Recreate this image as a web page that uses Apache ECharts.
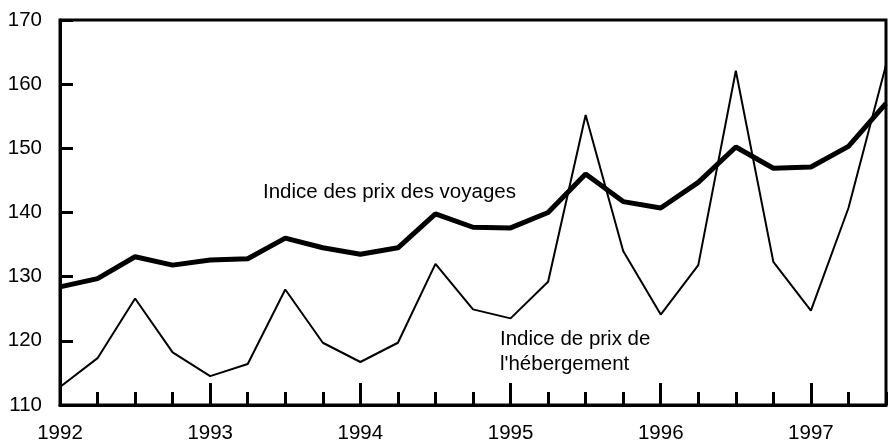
<!DOCTYPE html>
<html>
<head>
<meta charset="utf-8">
<script src="https://cdn.jsdelivr.net/npm/echarts@6/dist/echarts.min.js"></script>
<style>
  html, body { margin: 0; padding: 0; background: #fff; }
  #chart { width: 888px; height: 444px; }
</style>
</head>
<body>
<div id="chart"></div>
<script>
// trimestres de 1992 T1 a 1997 T3
const startYear = 1992
const years = [1992, 1993, 1994, 1995, 1996, 1997]
const voyages = [128.4, 129.7, 133.1, 131.8, 132.6, 132.8, 136.0, 134.5, 133.5, 134.5,
  139.8, 137.7, 137.6, 140.0, 146.0, 141.7, 140.7, 144.7, 150.2, 146.9, 147.1, 150.3, 157.0]
const hebergement = [112.8, 117.3, 126.6, 118.2, 114.5, 116.4, 128.0, 119.7, 116.7, 119.7,
  132.0, 124.9, 123.5, 129.2, 155.2, 134.0, 124.1, 131.8, 162.1, 132.3, 124.7, 140.7, 163.0]

const font = 'Liberation Sans, Arial, sans-serif'
const fsize = 20.5

function toPoints (values) {
  let pts = []
  for (let i = 0; i < values.length; i++) {
    pts.push([startYear + i * 0.25, values[i]])
  }
  return pts
}

let chart = echarts.init(document.getElementById('chart'), null, {renderer: 'canvas'})
let option = {
  animation: false,
  backgroundColor: '#fff',
  textStyle: {fontFamily: font},
  grid: {
    left: 60,
    right: 2,
    top: 20,
    bottom: 38,
    show: true,
    borderColor: '#000',
    borderWidth: 3,
    backgroundColor: 'transparent'
  },
  xAxis: [
    {
      type: 'value',
      min: years[0],
      max: 1997.5,
      interval: 1,
      axisLine: {show: true, lineStyle: {color: '#000', width: 3}},
      axisTick: {show: true, inside: true, length: 22, lineStyle: {color: '#000', width: 3}},
      axisLabel: {
        color: '#000',
        fontSize: fsize,
        fontFamily: font,
        margin: 18,
        showMaxLabel: false,
        formatter: function (v) {
          return years.indexOf(v) >= 0 ? String(v) : ''
        }
      },
      splitLine: {show: false}
    },
    {
      type: 'value',
      position: 'bottom',
      min: years[0],
      max: 1997.5,
      interval: 0.25,
      axisLine: {show: false},
      axisTick: {show: true, inside: true, length: 13, lineStyle: {color: '#000', width: 3}},
      axisLabel: {show: false},
      splitLine: {show: false}
    }
  ],
  yAxis: {
    type: 'value',
    min: 110,
    max: 170,
    interval: 10,
    axisLine: {show: true, lineStyle: {color: '#000', width: 3}},
    axisTick: {show: true, inside: true, length: 13, lineStyle: {color: '#000', width: 3}},
    axisLabel: {color: '#000', fontSize: fsize, fontFamily: font, margin: 18},
    splitLine: {show: false}
  },
  series: [
    {
      name: 'Indice de prix de l\'hébergement',
      type: 'line',
      data: toPoints(hebergement),
      showSymbol: false,
      symbol: 'none',
      lineStyle: {color: '#000', width: 2},
      z: 3
    },
    {
      name: 'Indice des prix des voyages',
      type: 'line',
      data: toPoints(voyages),
      showSymbol: false,
      symbol: 'none',
      lineStyle: {color: '#000', width: 5},
      z: 4
    }
  ],
  graphic: [
    {
      type: 'text',
      left: 263,
      top: 182,
      style: {text: 'Indice des prix des voyages', fill: '#000', font: fsize + 'px ' + font}
    },
    {
      type: 'text',
      left: 500,
      top: 327,
      style: {text: 'Indice de prix de\nl\'hébergement', fill: '#000', font: fsize + 'px ' + font, lineHeight: 25}
    }
  ]
}
chart.setOption(option)
</script>
</body>
</html>
